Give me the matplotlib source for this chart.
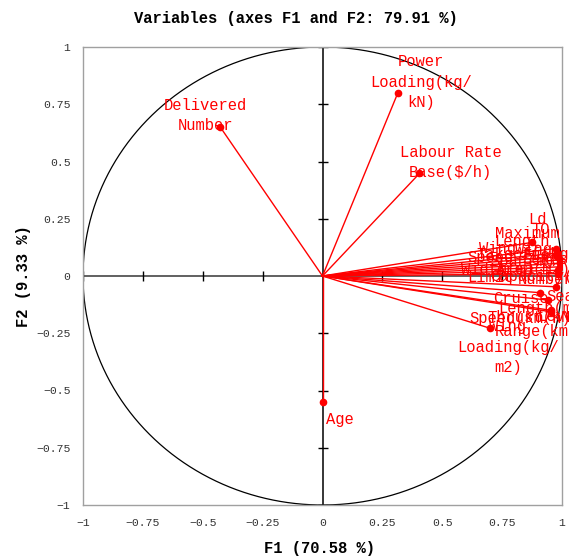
import numpy as np
import matplotlib
matplotlib.use("Agg")
import matplotlib.pyplot as plt

# ====================== DATA (loadings on F1 / F2) ======================
labels = [
    "Delivered\nNumber", "Power\nLoading(kg/\nkN)", "Labour Rate\nBase($/h)", "Age",
    "Ld", "TO", "Maximum\nTakeoff(kg)", "Length\nSpan(m)", "Wing\nWidth(m)",
    "Speed\nLimit", "Fuel\nCapacity(l)", "Seats\nNumber", "Wing\nArea(m2)",
    "Sea\nLevel", "Cruise\nSpeed(km/h)", "Length(m)", "Thrust(kN)", "Range(km)",
    "Wing\nLoading(kg/\nm2)",
]
f1 = [-0.426, 0.314, 0.405, 0.0,
      0.876, 0.975, 0.980, 0.985, 0.990,
      0.990, 0.990, 0.985, 0.985,
      0.973, 0.910, 0.940, 0.952, 0.955,
      0.699]
f2 = [0.649, 0.798, 0.448, -0.549,
      0.147, 0.120, 0.100, 0.085, 0.070,
      0.055, 0.040, 0.025, 0.010,
      -0.047, -0.073, -0.105, -0.156, -0.150,
      -0.228]

ticks = [-1, -0.75, -0.5, -0.25, 0, 0.25, 0.5, 0.75, 1]
tick_text = ["\u22121", "\u22120.75", "\u22120.5", "\u22120.25", "0", "0.25", "0.5", "0.75", "1"]

# label offsets from the dot (pixels, right / up)
label_offsets = [(-15, 12), (23, 11), (31, 11), (17, -18),
                 (5, 23), (-15, 19), (-30, 9), (-36, 5), (-62, 1),
                 (-69, -4), (-19, 1), (-13, 1), (-25, 14),
                 (5, -20), (-20, -16), (-8, -8), (-17, -6), (-15, -21),
                 (18, -19)]

# ====================== PLOT ======================
W, H = 569, 558
fig = plt.figure(figsize=(W / 100, H / 100), dpi=100)
ax = fig.add_axes([83 / W, (H - 505) / H, (562 - 83) / W, (505 - 47) / H])
ax.set_xlim(-1, 1)
ax.set_ylim(-1, 1)

mono = "Liberation Mono"

for s in ax.spines.values():
    s.set_color("#a0a0a0")
    s.set_linewidth(1.0)

ax.set_xticks(ticks)
ax.set_xticklabels(tick_text)
ax.set_yticks(ticks)
ax.set_yticklabels(tick_text)
ax.tick_params(length=0, labelsize=8.2, labelcolor="#333333", pad=9)
for t in ax.get_xticklabels() + ax.get_yticklabels():
    t.set_fontfamily(mono)

# correlation circle
theta = np.linspace(0, 2 * np.pi, 400)
ax.plot(np.cos(theta), np.sin(theta), color="black", lw=0.9, zorder=1)

# center axes with cross ticks
ax.plot([-1, 1], [0, 0], color="#606060", lw=1.4, zorder=1)
ax.plot([0, 0], [-1, 1], color="black", lw=1.1, zorder=1)
inner = [t for t in ticks if t != 0]
ax.plot(inner, [0] * len(inner), ls="none", marker="|", ms=7, mew=1.0, color="black", zorder=1)
ax.plot([0] * len(inner), inner, ls="none", marker="_", ms=7, mew=1.0, color="black", zorder=1)

for lab, x, y, (dx, dy) in zip(labels, f1, f2, label_offsets):
    ax.plot([0, x], [0, y], color="red", lw=1.0, zorder=2)
    ax.plot(x, y, "o", color="red", ms=4.5, zorder=3)
    ax.annotate(lab, (x, y), xytext=(dx * 0.72, dy * 0.72), textcoords="offset points",
                ha="center", va="center", multialignment="center",
                fontsize=11.2, color="red", family=mono, linespacing=1.45,
                annotation_clip=False, zorder=4)

fig.text(296 / W, 1 - 18 / H, "Variables (axes F1 and F2: 79.91 %)", ha="center", va="center",
         fontsize=11.2, fontweight="bold", family=mono)
fig.text(320 / W, 1 - 548 / H, "F1 (70.58 %)", ha="center", va="center",
         fontsize=11.2, fontweight="bold", family=mono)
fig.text(24 / W, 1 - 276 / H, "F2 (9.33 %)", ha="center", va="center", rotation=90,
         fontsize=11.2, fontweight="bold", family=mono)

fig.savefig("out.png", dpi=100)
